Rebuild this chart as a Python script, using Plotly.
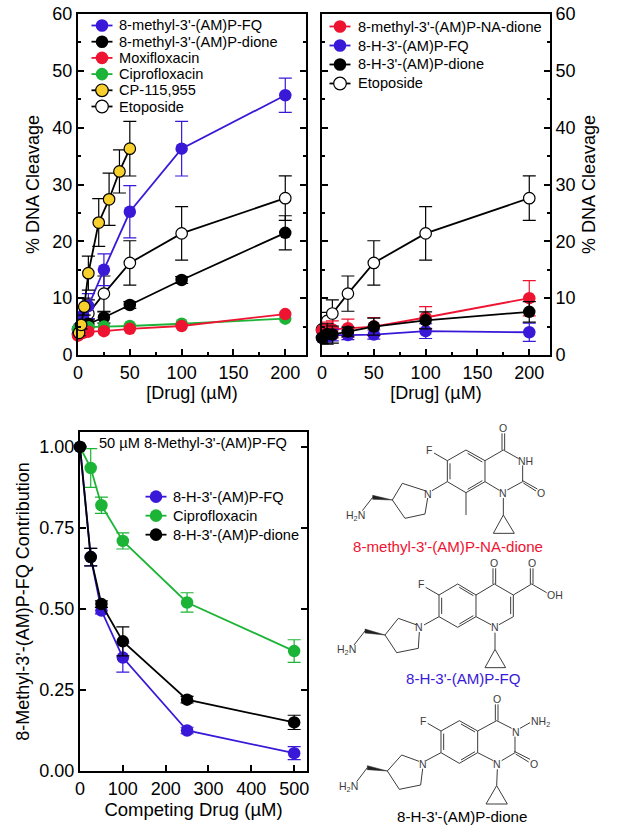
import plotly.graph_objects as go

W, H = 624, 832
BLUE, RED, GREEN, YELLOW = "#3a18d8", "#ee1431", "#1cb436", "#f7d02e"
FONT = "Liberation Sans"

# ---------- panel A ----------
a_fq_x = [0, 1, 5, 10, 25, 50, 100, 200]
a_fq_y = [3.8, 4.8, 7.0, 8.6, 15.0, 25.2, 36.3, 45.7]
a_fq_e = [0.8, 1.0, 1.5, 2.2, 2.8, 4.6, 4.8, 3.0]
a_di_x = [0, 1, 5, 10, 25, 50, 100, 200]
a_di_y = [3.6, 4.0, 4.8, 5.5, 6.6, 8.8, 13.2, 21.5]
a_di_e = [0.5, 0.5, 0.6, 0.7, 1.0, 0.6, 0.6, 3.0]
a_mo_x = [0, 1, 5, 10, 25, 50, 100, 200]
a_mo_y = [3.4, 3.6, 3.9, 4.1, 4.2, 4.6, 5.1, 7.2]
a_ci_x = [0, 1, 5, 10, 25, 50, 100, 200]
a_ci_y = [4.6, 4.7, 4.8, 4.9, 5.0, 5.1, 5.5, 6.4]
a_cp_x = [1, 3, 6, 10, 20, 30, 40, 50]
a_cp_y = [3.9, 5.3, 8.5, 14.4, 23.3, 27.4, 32.3, 36.3]
a_cp_e = [0.5, 0.7, 1.5, 3.0, 4.2, 4.6, 3.8, 4.8]
et_x = [0, 5, 10, 25, 50, 100, 200]
et_y = [4.5, 6.0, 7.3, 10.8, 16.2, 21.4, 27.6]
et_e = [0.8, 1.5, 2.4, 3.1, 3.9, 4.7, 3.9]

# ---------- panel B ----------
b_x = [0, 5, 10, 25, 50, 100, 200]
b_na_y = [4.3, 4.5, 4.5, 4.7, 5.0, 6.6, 10.0]
b_na_e = [1.2, 1.3, 1.5, 1.6, 1.6, 1.9, 3.1]
b_fq_y = [3.0, 3.3, 3.5, 3.5, 3.6, 4.2, 4.0]
b_fq_e = [1.0, 1.0, 1.0, 0.8, 0.8, 1.3, 1.6]
b_di_y = [3.0, 3.7, 3.6, 4.1, 5.0, 6.1, 7.6]
b_di_e = [1.0, 1.8, 1.5, 0.8, 1.5, 1.5, 1.8]

# ---------- panel C ----------
c_x = [0, 25, 50, 100, 250, 500]
c_fq_y = [1.0, 0.66, 0.495, 0.35, 0.125, 0.055]
c_fq_e = [0, 0.027, 0.01, 0.045, 0.01, 0.02]
c_ci_y = [1.0, 0.935, 0.82, 0.71, 0.52, 0.37]
c_ci_e = [0, 0.06, 0.025, 0.025, 0.03, 0.035]
c_di_y = [1.0, 0.66, 0.515, 0.40, 0.22, 0.15]
c_di_e = [0, 0.027, 0.01, 0.045, 0.01, 0.022]

a_legend = [("8-methyl-3'-(AM)P-FQ", BLUE, BLUE), ("8-methyl-3'-(AM)P-dione", "black", "black"),
            ("Moxifloxacin", RED, RED), ("Ciprofloxacin", GREEN, GREEN),
            ("CP-115,955", "black", YELLOW), ("Etoposide", "black", "white")]
b_legend = [("8-methyl-3'-(AM)P-NA-dione", RED, RED), ("8-H-3'-(AM)P-FQ", BLUE, BLUE),
            ("8-H-3'-(AM)P-dione", "black", "black"), ("Etoposide", "black", "white")]
c_legend = [("8-H-3'-(AM)P-FQ", BLUE, BLUE), ("Ciprofloxacin", GREEN, GREEN),
            ("8-H-3'-(AM)P-dione", "black", "black")]

fig = go.Figure()


def series(name, x, y, e, line, fill, ax):
    outlined = fill in (YELLOW, "white")
    fig.add_trace(go.Scatter(
        x=x, y=y, name=name, mode="lines+markers", xaxis=f"x{ax}", yaxis=f"y{ax}",
        cliponaxis=False, showlegend=False,
        line=dict(color=line, width=1.8),
        marker=dict(size=12.5 if not outlined else 11.5, color=fill,
                    line=dict(color="black", width=1.2 if outlined else 0)),
        error_y=dict(type="data", array=e, color=line, thickness=1.2, width=6.5) if e else None,
    ))


series("Etoposide", et_x, et_y, et_e, "black", "white", 1)
series("8-methyl-3'-(AM)P-FQ", a_fq_x, a_fq_y, a_fq_e, BLUE, BLUE, 1)
series("8-methyl-3'-(AM)P-dione", a_di_x, a_di_y, a_di_e, "black", "black", 1)
series("Ciprofloxacin", a_ci_x, a_ci_y, None, GREEN, GREEN, 1)
series("Moxifloxacin", a_mo_x, a_mo_y, None, RED, RED, 1)
series("CP-115,955", a_cp_x, a_cp_y, a_cp_e, "black", YELLOW, 1)

series("Etoposide", et_x, et_y, et_e, "black", "white", 2)
series("8-methyl-3'-(AM)P-NA-dione", b_x, b_na_y, b_na_e, RED, RED, 2)
series("8-H-3'-(AM)P-FQ", b_x, b_fq_y, b_fq_e, BLUE, BLUE, 2)
series("8-H-3'-(AM)P-dione", b_x, b_di_y, b_di_e, "black", "black", 2)

series("8-H-3'-(AM)P-FQ", c_x, c_fq_y, c_fq_e, BLUE, BLUE, 3)
series("Ciprofloxacin", c_x, c_ci_y, c_ci_e, GREEN, GREEN, 3)
series("8-H-3'-(AM)P-dione", c_x, c_di_y, c_di_e, "black", "black", 3)


def px(x):
    return x / W


def py(y):
    return 1 - y / H


shapes, annos = [], []


def text(x, y, s, size, color="black", anchor="left"):
    annos.append(dict(xref="paper", yref="paper", x=px(x), y=py(y), text=s, showarrow=False,
                      xanchor=anchor, yanchor="middle", font=dict(size=size, color=color, family=FONT),
                      borderpad=0, borderwidth=0))


def legend(items, xc, ytop, step, size, text_dx=17, half=10.5):
    for i, (label, lc, fc) in enumerate(items):
        y = ytop + i * step
        shapes.append(dict(type="line", xref="paper", yref="paper", x0=px(xc - half), x1=px(xc + half),
                           y0=py(y), y1=py(y), line=dict(color=lc, width=1.8)))
        r = 6.3
        shapes.append(dict(type="circle", xref="paper", yref="paper", x0=px(xc - r), x1=px(xc + r),
                           y0=py(y - r), y1=py(y + r), fillcolor=fc,
                           line=dict(color=lc, width=1.2 if fc in (YELLOW, "white") else 0)))
        text(xc + text_dx, y, label, size)


legend(a_legend, 102, 25.5, 16.2, 14.6)
legend(b_legend, 340, 26.5, 19, 14.6, text_dx=18)
legend(c_legend, 156, 420 + 230 / 3, 19, 14.6, text_dx=17)
text(99, 442.5, "50 µM 8-Methyl-3'-(AM)P-FQ", 14.6)

# ---------- chemical structures (drawing, in reference-crop units) ----------
GREY = "#3c3c3c"


def zx(v):
    return px(330 + v / 3)


def zy(v):
    return py(420 + v / 3)


def bonds(segs):
    d = " ".join(f"M {zx(a):.5f} {zy(b):.5f} L {zx(c):.5f} {zy(e):.5f}" for a, b, c, e in segs)
    shapes.append(dict(type="path", xref="paper", yref="paper", path=d, line=dict(color=GREY, width=1)))


def wedge(tipx, tipy, bx, by):
    d = (f"M {zx(tipx):.5f} {zy(tipy):.5f} L {zx(bx):.5f} {zy(by - 6):.5f} "
         f"L {zx(bx):.5f} {zy(by + 6):.5f} Z")
    shapes.append(dict(type="path", xref="paper", yref="paper", path=d, fillcolor="#222222",
                       line=dict(color="#222222", width=0.5)))


def atom(v, w, s, size=10.5):
    text(330 + v / 3, 420 + w / 3, s, size, color=GREY, anchor="center")


# molecule 1
bonds([(352, 122, 408, 90), (408, 90, 465, 122), (465, 122, 465, 185), (465, 185, 408, 218),
       (408, 218, 352, 185), (352, 185, 352, 122), (413, 100, 457, 126), (413, 208, 457, 182),
       (360, 130, 360, 178), (465, 122, 520, 90), (520, 90, 566, 116), (578, 136, 578, 185),
       (578, 185, 532, 210), (508, 211, 465, 185), (516, 90, 516, 40), (524, 90, 524, 40),
       (576, 181, 622, 207), (580, 189, 618, 213), (352, 122, 312, 99), (352, 185, 306, 212),
       (408, 218, 408, 285), (520, 234, 520, 285), (520, 285, 490, 340), (490, 340, 553, 340),
       (553, 340, 520, 285), (285, 212, 217, 190), (217, 190, 187, 240), (187, 240, 225, 295),
       (225, 295, 285, 282), (285, 282, 293, 234), (128, 232, 97, 272)])
wedge(187, 240, 128, 232)
for v, w, s in [(520, 25, "O"), (585, 122, "NH"), (633, 218, "O"), (520, 220, "N"), (297, 90, "F"),
                (295, 222, "N"), (75, 288, "H<sub>2</sub>N")]:
    atom(v, w, s)
# molecule 2
bonds([(327, 525, 383, 492), (383, 492, 438, 525), (438, 525, 438, 590), (438, 590, 383, 622),
       (383, 622, 327, 590), (327, 590, 327, 525), (388, 502, 430, 527), (388, 612, 430, 587),
       (335, 533, 335, 582), (438, 525, 493, 492), (493, 492, 550, 525), (550, 525, 550, 590),
       (542, 530, 542, 582), (550, 590, 507, 614), (483, 614, 438, 590), (489, 492, 489, 445),
       (497, 492, 497, 445), (550, 525, 605, 492), (601, 492, 601, 445), (609, 492, 609, 445),
       (605, 492, 650, 518), (327, 525, 287, 502), (327, 590, 282, 615), (495, 638, 495, 688),
       (495, 688, 465, 743), (465, 743, 527, 743), (527, 743, 495, 688), (258, 614, 205, 595),
       (205, 595, 165, 645), (165, 645, 200, 698), (200, 698, 265, 685), (265, 685, 268, 636),
       (105, 633, 72, 675)])
wedge(165, 645, 105, 633)
for v, w, s in [(493, 430, "O"), (605, 428, "O"), (675, 525, "OH"), (272, 492, "F"), (495, 622, "N"),
                (268, 622, "N"), (48, 690, "H<sub>2</sub>N")]:
    atom(v, w, s)
# molecule 3
bonds([(333, 933, 388, 902), (388, 902, 443, 933), (443, 933, 443, 998), (443, 998, 388, 1030),
       (388, 1030, 333, 998), (333, 998, 333, 933), (393, 912, 435, 936), (393, 1020, 435, 995),
       (341, 941, 341, 990), (443, 933, 500, 902), (500, 902, 545, 925), (555, 950, 555, 998),
       (555, 998, 515, 1022), (490, 1022, 443, 998), (496, 902, 496, 853), (504, 902, 504, 853),
       (570, 925, 600, 908), (553, 994, 600, 1018), (557, 1002, 596, 1026), (333, 933, 293, 910),
       (333, 998, 288, 1022), (502, 1048, 500, 1097), (500, 1097, 468, 1152), (468, 1152, 532, 1152),
       (532, 1152, 500, 1097), (267, 1024, 215, 1005), (215, 1005, 172, 1053), (172, 1053, 208, 1108),
       (208, 1108, 272, 1095), (272, 1095, 278, 1046), (112, 1043, 80, 1085)])
wedge(172, 1053, 112, 1043)
for v, w, s in [(500, 838, "O"), (557, 935, "N"), (630, 905, "NH<sub>2</sub>"), (612, 1032, "O"),
                (278, 902, "F"), (502, 1032, "N"), (278, 1033, "N"), (55, 1100, "H<sub>2</sub>N")]:
    atom(v, w, s)

text(330 + 355 / 3, 420 + 378 / 3, "8-methyl-3'-(AM)P-NA-dione", 15.1, RED, "center")
text(330 + 401 / 3, 420 + 776 / 3, "8-H-3'-(AM)P-FQ", 15.1, BLUE, "center")
text(330 + 395 / 3, 420 + 1188 / 3, "8-H-3'-(AM)P-dione", 15.1, "black", "center")


def axis(**kw):
    base = dict(showgrid=False, zeroline=False, showline=True, linecolor="black", linewidth=2,
                ticks="inside", ticklen=6, tickwidth=2, tickcolor="black", automargin=False,
                tickfont=dict(size=18, color="black", family=FONT))
    base.update(kw)
    return base


def title(s, standoff, size=18):
    return dict(text=s, font=dict(size=size, color="black", family=FONT), standoff=standoff)


minor_x = dict(dtick=25, ticklen=3, tickwidth=2, tickcolor="black", ticks="inside")
minor_y = dict(dtick=5, ticklen=3, tickwidth=2, tickcolor="black", ticks="inside")

fig.update_layout(
    width=W, height=H, margin=dict(l=0, r=0, t=0, b=0), autosize=False,
    paper_bgcolor="white", plot_bgcolor="white", showlegend=False,
    font=dict(family=FONT, color="black"),
    shapes=shapes, annotations=annos,
    xaxis=axis(domain=[78 / W, 306 / W], range=[0, 220], dtick=50, tick0=0, mirror=True, anchor="y",
               minor=minor_x, title=title("[Drug] (µM)", 5)),
    yaxis=axis(domain=[1 - 355 / H, 1 - 14 / H], range=[0, 60], dtick=10, tick0=0, mirror="ticks", anchor="x",
               minor=minor_y, title=title("% DNA Cleavage", 8)),
    xaxis2=axis(domain=[322 / W, 550 / W], range=[0, 220], dtick=50, tick0=0, mirror=True, anchor="y2",
                minor=minor_x, title=title("[Drug] (µM)", 5)),
    yaxis2=axis(domain=[1 - 355 / H, 1 - 14 / H], range=[0, 60], dtick=10, tick0=0, mirror="ticks", anchor="x2",
                side="right", minor=minor_y, title=title("% DNA Cleavage", 8)),
    xaxis3=axis(domain=[80 / W, 307 / W], range=[0, 530], dtick=100, tick0=0, mirror=True, anchor="y3",
                title=title("Competing Drug (µM)", 2, 18.5)),
    yaxis3=axis(domain=[1 - 771 / H, 1 - 432 / H], range=[0, 1.046], dtick=0.25, tick0=0, tickformat=".2f",
                mirror="ticks", anchor="x3", title=title("8-Methyl-3'-(AM)P-FQ Contribution", 5)),
)

fig.write_html("out.html", config=dict(displayModeBar=False),
               post_script="document.body.style.margin='0';")
